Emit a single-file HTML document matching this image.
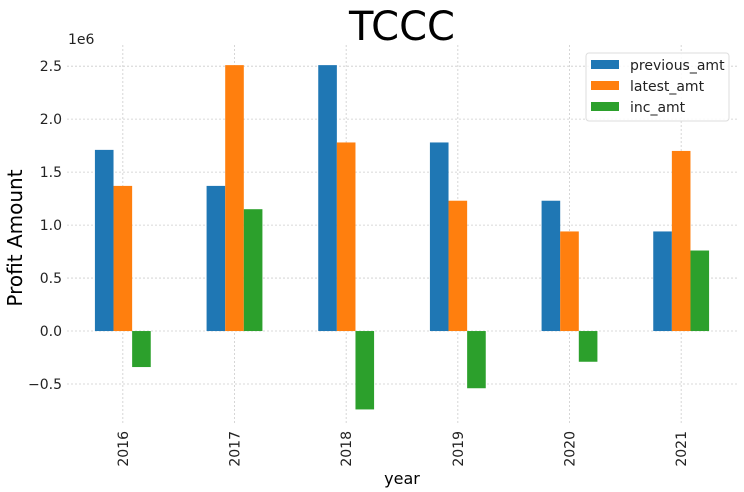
<!DOCTYPE html>
<html><head><meta charset="utf-8"><style>
body{margin:0;background:#fff;}
svg{display:block;font-family:"DejaVu Sans","Liberation Sans",sans-serif;}
</style></head><body>
<svg id="c" width="744" height="492"></svg>
<script>
const years=["2016","2017","2018","2019","2020","2021"];
const previousAmt=[1.71,1.37,2.51,1.78,1.23,0.94];
const latestAmt=[1.37,2.51,1.78,1.23,0.94,1.70];
const incAmt=[-0.34,1.15,-0.74,-0.54,-0.29,0.76];
const yTicks=[-0.5,0.0,0.5,1.0,1.5,2.0,2.5];
const yTickLabels=["\u22120.5","0.0","0.5","1.0","1.5","2.0","2.5"];
const seriesNames=["previous_amt","latest_amt","inc_amt"];
const colors=["#1f77b4","#ff7f0e","#2ca02c"];
const NS="http://www.w3.org/2000/svg";
const svg=document.getElementById('c');
const L=67,R=737,T=45,B=425,yMin=-0.887,yMax=2.70;
const xs=i=>L+(i+0.5)*(R-L)/years.length;
const ys=v=>B-(v-yMin)/(yMax-yMin)*(B-T);
function mk(tag,attrs,txt){const e=document.createElementNS(NS,tag);for(const k in attrs)e.setAttribute(k,attrs[k]);if(txt!==undefined)e.textContent=txt;svg.appendChild(e);return e;}
// grid
yTicks.forEach((t,i)=>{
 const g=mk('line',{x1:L,x2:R,y1:ys(t),y2:ys(t),stroke:'#ccc','stroke-width':0.8,'stroke-dasharray':'2,2'});
 
 
 const lb=mk('text',{x:L-5,y:ys(t)+5,'text-anchor':'end','font-size':14,fill:'#222'},yTickLabels[i]);
 
 
});
years.forEach((y,i)=>{
 const g=mk('line',{x1:xs(i),x2:xs(i),y1:T,y2:B,stroke:'#ccc','stroke-width':0.8,'stroke-dasharray':'2,2'});
 
 
 const lb=mk('text',{x:0,y:0,'text-anchor':'end','font-size':14,fill:'#222',transform:`translate(${xs(i)+5},${B+6}) rotate(-90)`},y);
 
 
});
const bw=(R-L)/years.length/6;
[previousAmt,latestAmt,incAmt].forEach((arr,s)=>{
 arr.forEach((v,i)=>{
  const x=xs(i)-1.5*bw+s*bw;
  const y0=ys(0),y1=ys(v);
  const r=mk('rect',{x:x,y:Math.min(y0,y1),width:bw,height:Math.abs(y1-y0),fill:colors[s]});
  
  
 });
});
const t=mk('text',{x:402,y:40,'text-anchor':'middle','font-size':40,fill:'#000'},'TCCC');

const yt=mk('text',{x:0,y:0,'text-anchor':'middle','font-size':20,fill:'#000',transform:'translate(22,238) rotate(-90)'},'Profit Amount');

const xt=mk('text',{x:402,y:484,'text-anchor':'middle','font-size':16,fill:'#000'},'year');

const off=mk('text',{x:68,y:44,'font-size':14,fill:'#222'},'1e6');

const lg=mk('rect',{x:586,y:53,width:143,height:68,rx:3,fill:'#fff','fill-opacity':0.85,stroke:'#ddd'});

seriesNames.forEach((n,s)=>{
 const sw=mk('rect',{x:591,y:60+s*21,width:28,height:9,fill:colors[s]});
 
 const tx=mk('text',{x:630,y:70+s*21,'font-size':14,fill:'#222'},n);
 
});
</script>
</body></html>
